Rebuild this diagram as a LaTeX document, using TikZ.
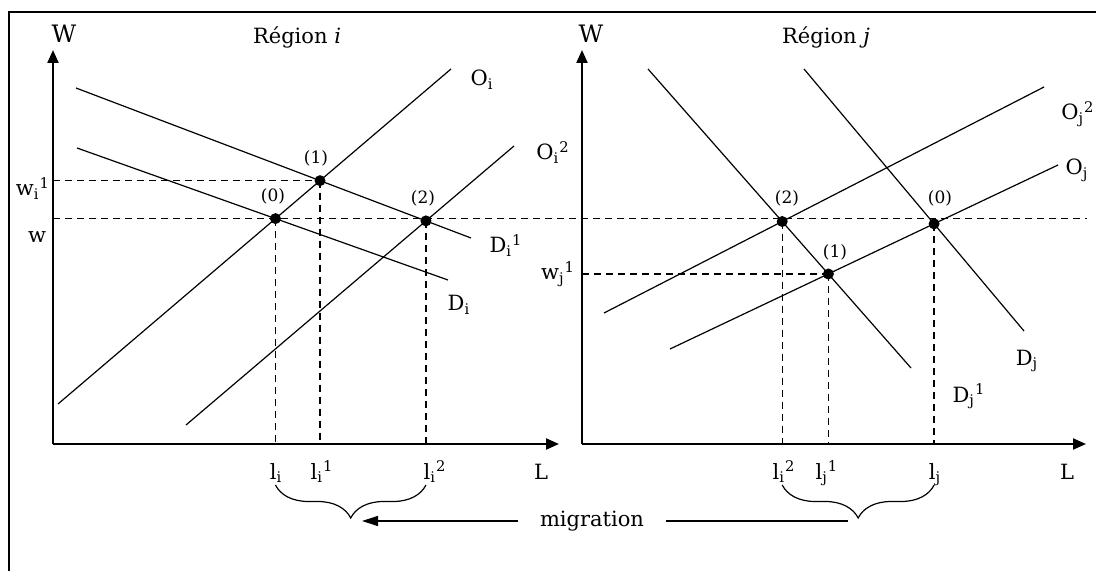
\documentclass[tikz,border=0pt]{standalone}
\usepackage{fontspec}
\setmainfont{DejaVu Serif}
\usepackage{tikz}
\usetikzlibrary{arrows.meta, decorations.pathreplacing}

\begin{document}
\begin{tikzpicture}[x=0.5pt, y=-0.5pt,
    axe/.style={line width=1.1pt, -{Triangle[length=6.5pt, width=5.5pt]}},
    courbe/.style={line width=0.6pt},
    pointille/.style={line width=0.7pt, dash pattern=on 3.5pt off 2.5pt},
    equil/.style={circle, fill=black, inner sep=0pt, minimum size=5.5pt},
    etiq/.style={font=\fontsize{10.5}{12}\selectfont, anchor=base, inner sep=0pt},
    numero/.style={font=\fontsize{8.5}{10}\selectfont, inner sep=0pt},
    accolade/.style={decorate, decoration={brace, mirror, amplitude=16.5pt},
                     line width=0.6pt}]

    \useasboundingbox (0,0) rectangle (1096,571);

    % Cadre (ouvert en bas et a droite)
    \draw[line width=1pt] (9,571) -- (9,12) -- (1096,12);
    \coordinate (fin) at (1087,0);

    % ===== Région i =====
    \coordinate (oi) at (53,444);
    \draw[axe] (oi) -- (53,50);
    \draw[axe] (oi) -- (559,444);
    \node[etiq, font=\fontsize{12}{14}\selectfont] (Wi) at (64,43) {W};
    \node[etiq] (Li) at (541,479) {L};
    \node[etiq] (titrei) at (297,44) {Région \textit{i}};

    % Offre et demande
    \draw[courbe] (76,88)  coordinate (di1a) -- (471,238) coordinate (di1b);
    \draw[courbe] (77,148) coordinate (dia)  -- (448,280) coordinate (dib);
    \draw[courbe] (58,404) coordinate (oia)  -- (451,69)  coordinate (oib);
    \draw[courbe] (186,425) coordinate (oi2a) -- (514,146) coordinate (oi2b);
    \node[etiq] (Oi)  at (482,86)  {O\textsubscript{i}};
    \node[etiq] (Oi2) at (553,160) {O\textsubscript{i}\textsuperscript{2}};
    \node[etiq] (Di1) at (506,253) {D\textsubscript{i}\textsuperscript{1}};
    \node[etiq] (Di)  at (459,311) {D\textsubscript{i}};

    % Equilibres
    \coordinate (i0) at (intersection of dia--dib and oia--oib);
    \coordinate (i1) at (intersection of di1a--di1b and oia--oib);
    \coordinate (i2) at (intersection of di1a--di1b and oi2a--oi2b);

    % ===== Région j =====
    \coordinate (oj) at (582,444);
    \draw[axe] (oj) -- (582,50);
    \draw[axe] (oj) -- (1086,444);
    \node[etiq, font=\fontsize{12}{14}\selectfont] (Wj) at (591,43) {W};
    \node[etiq] (Lj) at (1067,479) {L};
    \node[etiq] (titrej) at (826,44) {Région \textit{j}};

    \draw[courbe] (648,69)  coordinate (dj1a) -- (911,368)  coordinate (dj1b);
    \draw[courbe] (804,69)  coordinate (dja)  -- (1024,331) coordinate (djb);
    \draw[courbe] (604,313) coordinate (oj2a) -- (1044,87)  coordinate (oj2b);
    \draw[courbe] (670,349) coordinate (oja)  -- (1058,165) coordinate (ojb);
    \node[etiq] (Oj2) at (1078,120) {O\textsubscript{j}\textsuperscript{2}};
    \node[etiq] (Oj)  at (1077,175) {O\textsubscript{j}};
    \node[etiq] (Dj)  at (1027,365) {D\textsubscript{j}};
    \node[etiq] (Dj1) at (969,402)  {D\textsubscript{j}\textsuperscript{1}};

    \coordinate (j0) at (intersection of dja--djb and oja--ojb);
    \coordinate (j1) at (intersection of dj1a--dj1b and oja--ojb);
    \coordinate (j2) at (intersection of dj1a--dj1b and oj2a--oj2b);

    % Pointilles
    \draw[pointille] (i0 -| oi) -- (i0 -| fin);
    \draw[pointille] (i1 -| oi) -- (i1);
    \draw[pointille] (j1 -| oj) -- (j1);
    \foreach \p in {i0,i1,i2} {
      \draw[pointille] (\p) -- (\p |- oi);
    }
    \foreach \p in {j0,j1,j2} {
      \draw[pointille] (\p) -- (\p |- oj);
    }

    % Points d'equilibre
    \foreach \p in {i0,i1,i2,j0,j1,j2} {
      \node[equil] (pt\p) at (\p) {};
    }
    \node[numero] (n0i) at (273,196) {(0)};
    \node[numero] (n1i) at (316,158) {(1)};
    \node[numero] (n2i) at (423,198) {(2)};
    \node[numero] (n2j) at (787,198) {(2)};
    \node[numero] (n0j) at (940,198) {(0)};
    \node[numero] (n1j) at (835,252) {(1)};

    % Salaires
    \node[etiq] (wi1) at (33,196) {w\textsubscript{i}\textsuperscript{1}};
    \node[etiq] (w)   at (37,243) {w};
    \node[etiq] (wj1) at (558,280) {w\textsubscript{j}\textsuperscript{1}};

    % Emploi
    \node[etiq] (li)   at (276,479) {l\textsubscript{i}};
    \node[etiq] (li1)  at (322,479) {l\textsubscript{i}\textsuperscript{1}};
    \node[etiq] (li2)  at (435,479) {l\textsubscript{i}\textsuperscript{2}};
    \node[etiq] (li2b) at (784,479) {l\textsubscript{i}\textsuperscript{2}};
    \node[etiq] (lj1)  at (827,479) {l\textsubscript{j}\textsuperscript{1}};
    \node[etiq] (lj)   at (935,479) {l\textsubscript{j}};

    % Accolades et migration
    \draw[accolade] (i0 |- 0,485) -- (i2 |- 0,485);
    \draw[accolade] (j2 |- 0,485) -- (j0 |- 0,485);
    \coordinate (pointei) at (350,519);
    \coordinate (pointej) at (858,519);
    \node[etiq, anchor=center, inner xsep=11pt] (mig) at (592,521) {migration};
    \draw[courbe, -{Triangle[length=8pt, width=5pt]}, shorten >=6pt]
      (mig.west) -- (mig.west -| pointei);
    \draw[courbe, line width=0.8pt, shorten >=5pt] (mig.east) -- (mig.east -| pointej);

\end{tikzpicture}
\end{document}
